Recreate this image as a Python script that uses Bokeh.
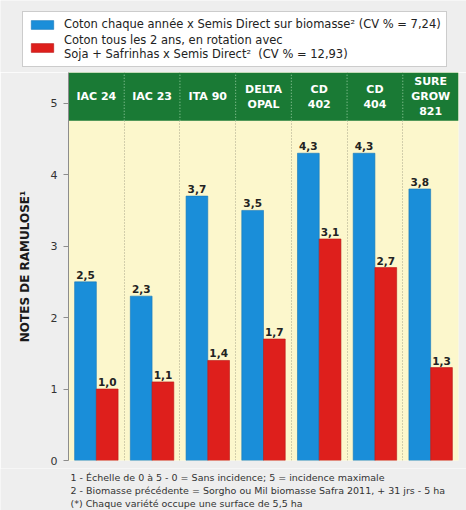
from bokeh.plotting import figure
from bokeh.models import (Range1d, FixedTicker, Legend, LegendItem, Label, ColumnDataSource)
from bokeh.layouts import column
from bokeh.core.properties import value
from bokeh.embed import file_html
from bokeh.resources import INLINE
import numpy as np

categories = ["IAC 24", "IAC 23", "ITA 90", "DELTA\nOPAL", "CD\n402", "CD\n404", "SURE\nGROW\n821"]
blue_values = [2.5, 2.3, 3.7, 3.5, 4.3, 4.3, 3.8]
red_values = [1.0, 1.1, 1.4, 1.7, 3.1, 2.7, 1.3]
y_ticks = [0, 1, 2, 3, 4, 5]
legend_labels = [
    "Coton chaque année x Semis Direct sur biomasse² (CV % = 7,24)",
    "Coton tous les 2 ans, en rotation avec\nSoja + Safrinhas x Semis Direct²  (CV % = 12,93)",
]
y_label = "NOTES DE RAMULOSE¹"
footnotes = [
    "1 - Échelle de 0 à 5 - 0 = Sans incidence; 5 = incidence maximale",
    "2 - Biomasse précédente = Sorgho ou Mil biomasse Safra 2011, + 31 jrs - 5 ha",
    "(*) Chaque variété occupe une surface de 5,5 ha",
]

BLUE = "#1a8ed9"
RED = "#de1f1c"
GREEN = "#1a7a35"
GRAY_BG = "#eeeeee"
YMAX = 5.43
BAND = 4.755

def fmt(v):
    return f"{v:.1f}".replace(".", ",")

xs = np.arange(len(categories))
bw = 0.39
src = ColumnDataSource(dict(
    x=xs, xb=xs - bw / 2, xr=xs + bw / 2,
    blue=blue_values, red=red_values,
    bl=[fmt(v) for v in blue_values], rl=[fmt(v) for v in red_values],
    cat=categories,
))

def strip(height):
    f = figure(width=466, height=height, output_backend="svg", toolbar_location=None,
               x_range=Range1d(0, 1), y_range=Range1d(10, 11),
               x_axis_location=None, y_axis_location=None,
               min_border=0, min_border_left=0, min_border_right=0,
               min_border_top=0, min_border_bottom=0)
    f.frame_align = False
    f.grid.visible = False
    f.outline_line_color = None
    f.background_fill_color = GRAY_BG
    f.border_fill_color = GRAY_BG
    return f

# ---------- legend strip ----------
lg = strip(72)
db = lg.vbar(x="xb", top="blue", width=bw, source=src, fill_color=BLUE, line_color="#1577b8", line_width=0.6)
dr = lg.vbar(x="xr", top="red", width=bw, source=src, fill_color=RED, line_color="#b81614", line_width=0.6)
legend = Legend(items=[LegendItem(label=legend_labels[0], renderers=[db]),
                       LegendItem(label=legend_labels[1], renderers=[dr])],
                location=(22, 5))
legend.label_text_font = "DejaVu Sans"
legend.label_text_font_size = "11.5px"
legend.label_text_color = "#222222"
legend.label_text_line_height = 1.15
legend.label_height = 13
legend.label_standoff = 8
legend.glyph_width = 28
legend.glyph_height = 11
legend.spacing = 2
legend.padding = 5
legend.margin = 0
legend.border_line_color = "#9a9a9a"
legend.background_fill_color = "white"
legend.background_fill_alpha = 1.0
lg.add_layout(legend, "center")

# ---------- main chart ----------
p = figure(width=466, height=396, output_backend="svg", toolbar_location=None,
           x_range=Range1d(-0.5, len(categories) - 0.5), y_range=Range1d(0, YMAX),
           min_border_left=68, min_border_right=8, min_border_top=0, min_border_bottom=8)
p.frame_align = False
p.background_fill_color = "#fcf7cc"
p.border_fill_color = GRAY_BG
p.outline_line_color = None

p.xaxis.visible = False
p.xgrid.ticker = FixedTicker(ticks=list(xs[:-1] + 0.5))
p.xgrid.grid_line_color = "#a9a58a"
p.xgrid.grid_line_dash = "1 2"
p.ygrid.grid_line_color = None

p.quad(left=-0.5, right=len(categories) - 0.5, bottom=BAND, top=YMAX,
       fill_color=GREEN, line_color=None)
p.segment(x0=xs[:-1] + 0.5, x1=xs[:-1] + 0.5, y0=[BAND] * (len(xs) - 1), y1=[YMAX] * (len(xs) - 1),
          line_color="#9fd0a8", line_dash="1 2", line_width=1)
p.text(x="x", y=(BAND + YMAX) / 2, text="cat", source=src, text_color="white",
       text_font=value("DejaVu Sans"), text_font_style="bold", text_font_size="11px",
       text_align="center", text_baseline="middle", text_line_height=1.15)

p.vbar(x="xb", width=bw, top="blue", source=src, fill_color=BLUE, line_color="#1577b8", line_width=0.6)
p.vbar(x="xr", width=bw, top="red", source=src, fill_color=RED, line_color="#b81614", line_width=0.6)

p.text(x="xb", y="blue", text="bl", source=src, y_offset=-3, text_align="center",
       text_baseline="bottom", text_font=value("DejaVu Sans"), text_font_style="bold",
       text_font_size="10.5px", text_color="#222222")
p.text(x="xr", y="red", text="rl", source=src, y_offset=-3, text_align="center",
       text_baseline="bottom", text_font=value("DejaVu Sans"), text_font_style="bold",
       text_font_size="10.5px", text_color="#222222")

ax = p.yaxis[0]
ax.ticker = FixedTicker(ticks=y_ticks)
ax.axis_line_color = "#8c8c8c"
ax.major_tick_line_color = "#8c8c8c"
ax.major_tick_out = 5
ax.major_tick_in = 0
ax.minor_tick_line_color = None
ax.major_label_text_font = "DejaVu Sans"
ax.major_label_text_font_size = "11px"
ax.major_label_text_color = "#333333"
ax.major_label_standoff = 6
ax.axis_label = y_label
ax.axis_label_text_font = "DejaVu Sans"
ax.axis_label_text_font_style = "bold"
ax.axis_label_text_font_size = "12px"
ax.axis_label_text_color = "#1a1a1a"
ax.axis_label_standoff = 16

# ---------- footnotes strip ----------
ft = strip(42)
for i, t in enumerate(footnotes):
    ft.add_layout(Label(x=70, y=33 - 13 * i, x_units="screen", y_units="screen", text=t,
                        text_font="DejaVu Sans", text_font_size="9.5px", text_color="#333333",
                        text_baseline="middle"))

layout = column(lg, p, ft, spacing=0)
open("out.html", "w").write(file_html(layout, INLINE))
